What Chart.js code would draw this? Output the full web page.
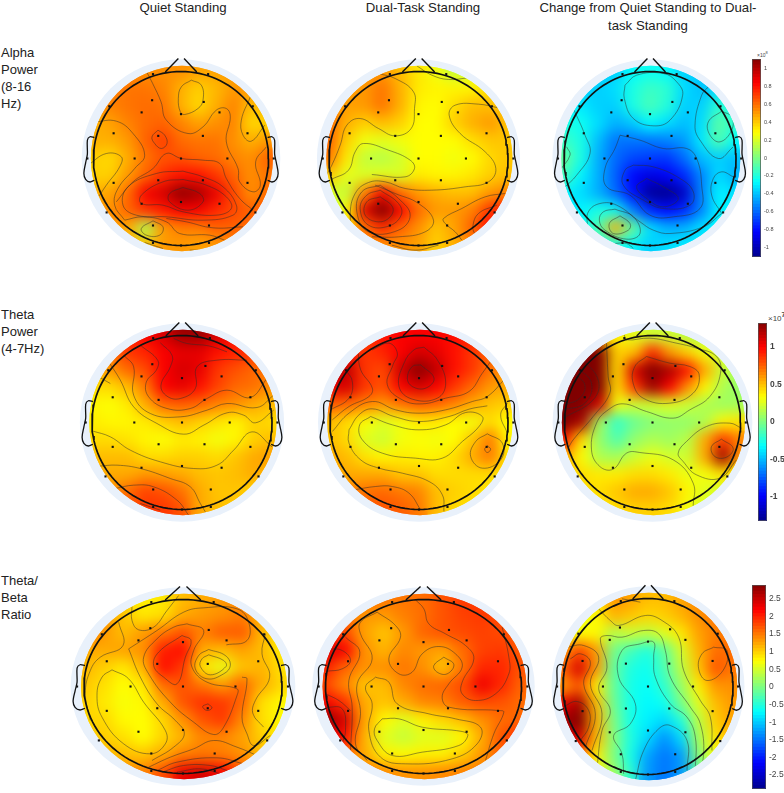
<!DOCTYPE html>
<html>
<head>
<meta charset="utf-8">
<title>EEG power topographies</title>
<script src="https://cdn.jsdelivr.net/npm/chart.js@4/dist/chart.umd.min.js"></script>
<style>
  html, body { margin: 0; padding: 0; background: #fff; }
  #page { position: relative; width: 784px; height: 793px; overflow: hidden; font-family: "Liberation Sans", Arial, sans-serif; color: #222; }
  #page canvas { position: absolute; }
  .title { position: absolute; text-align: center; font-size: 13.2px; line-height: 18px; }
  .row { position: absolute; left: 1px; font-size: 13px; line-height: 17px; }
  .exp { position: absolute; color: #444; }
</style>
</head>
<body>
<div id="page">
  <div class="title" style="left:88px;width:190px;top:-1px">Quiet Standing</div>
  <div class="title" style="left:328px;width:190px;top:-1px">Dual-Task Standing</div>
  <div class="title" style="left:535px;width:226px;top:-1px">Change from Quiet Standing to Dual-task Standing</div>
  <div class="row" style="top:44px">Alpha<br>Power<br>(8-16<br>Hz)</div>
  <div class="row" style="top:306px">Theta<br>Power<br>(4-7Hz)</div>
  <div class="row" style="top:572px">Theta/<br>Beta<br>Ratio</div>
  <div class="exp" style="left:757px;top:50px;font-size:5px">×10<sup style="font-size:4px">8</sup></div>
  <div class="exp" style="left:768px;top:311px;font-size:8px">×10<sup style="font-size:7px;font-weight:bold">7</sup></div>
</div>
<script>
// colour grids, rows top to bottom of the head (colorbar units)
const alphaQuiet = [
  [.52,.52,.52,.52,.52,.52,.48,.48,.5,.5,.5],
  [.55,.55,.58,.58,.55,.45,.38,.43,.5,.5,.5],
  [.5,.55,.58,.6,.58,.45,.36,.45,.55,.42,.45],
  [.45,.48,.55,.6,.62,.55,.48,.52,.55,.36,.38],
  [.45,.45,.5,.62,.7,.6,.58,.58,.52,.45,.5],
  [.38,.36,.46,.58,.65,.66,.62,.6,.55,.52,.62],
  [.38,.38,.5,.62,.74,.8,.8,.72,.62,.52,.58],
  [.45,.48,.6,.85,.92,1.08,1.02,.88,.68,.52,.6],
  [.5,.52,.62,.72,.78,.85,.85,.75,.68,.62,.65],
  [.5,.5,.46,.1,.5,.56,.56,.62,.62,.6,.6],
  [.5,.5,.45,.42,.5,.5,.48,.5,.55,.55,.55]
];
const alphaDual = [
  [.5,.5,.5,.5,.42,.33,.25,.15,.2,.3,.3],
  [.55,.5,.5,.58,.45,.32,.3,.3,.3,.35,.35],
  [.58,.48,.5,.58,.45,.3,.28,.35,.42,.42,.4],
  [.6,.45,.38,.42,.38,.28,.28,.38,.45,.5,.42],
  [.62,.38,.25,.22,.25,.28,.28,.28,.35,.4,.4],
  [.58,.32,.15,.12,.18,.28,.28,.25,.28,.36,.4],
  [.4,.22,.2,.22,.2,.32,.3,.3,.33,.38,.42],
  [.2,.15,.55,.85,.6,.5,.45,.42,.42,.5,.55],
  [.12,.28,.9,1.11,.85,.6,.5,.5,.55,.72,.8],
  [.2,.35,.6,.75,.62,.52,.4,.48,.62,.82,.8],
  [.4,.45,.5,.52,.52,.48,.38,.45,.55,.6,.6]
];
const alphaChange = [
  [-.38,-.38,-.38,-.38,-.28,-.25,-.28,-.38,-.38,-.38,-.38],
  [-.4,-.38,-.38,-.35,-.22,-.15,-.18,-.35,-.42,-.35,-.35],
  [-.3,-.32,-.38,-.38,-.22,-.12,-.2,-.38,-.38,-.18,-.25],
  [-.22,-.25,-.35,-.45,-.4,-.28,-.35,-.42,-.35,-.08,-.18],
  [-.15,-.22,-.42,-.58,-.58,-.58,-.55,-.5,-.32,-.1,-.28],
  [-.05,-.22,-.45,-.6,-.68,-.7,-.72,-.6,-.42,-.38,-.42],
  [-.12,-.3,-.45,-.62,-.82,-.9,-.85,-.75,-.55,-.35,-.45],
  [-.3,-.35,-.45,-.6,-.8,-1.08,-1.11,-.98,-.55,-.3,-.35],
  [-.32,-.3,-.22,-.25,-.55,-.75,-.82,-.75,-.55,-.3,-.3],
  [-.28,-.28,-.1,.45,-.05,-.35,-.45,-.45,-.35,-.28,-.28],
  [-.3,-.3,-.25,-.22,-.3,-.38,-.35,-.32,-.3,-.3,-.3]
];
const thetaQuiet = [
  [.65,.8,.9,1,1.1,1.25,1.25,1.1,.95,.85,.7],
  [.6,.7,.85,.9,1,1.05,1.05,.95,.9,.85,.75],
  [.55,.6,.72,.8,1,1.1,1.05,.85,.78,.72,.68],
  [.42,.42,.5,.68,1,1.05,.95,.82,.72,.7,.62],
  [.35,.32,.38,.55,.72,.75,.72,.65,.62,.55,.5],
  [.38,.35,.35,.38,.45,.5,.45,.4,.35,.45,.42],
  [.42,.42,.4,.35,.32,.38,.36,.3,.35,.45,.5],
  [.5,.5,.5,.42,.42,.45,.45,.42,.48,.55,.58],
  [.55,.55,.55,.6,.58,.55,.5,.48,.5,.55,.52],
  [.6,.6,.72,.82,.78,.7,.55,.48,.48,.45,.45],
  [.65,.65,.75,.85,.85,.78,.55,.5,.48,.45,.45]
];
const thetaDual = [
  [.9,.9,.85,.95,1,1,1,.95,.9,.75,.7],
  [1.05,.95,.85,.9,1,1.1,1.05,.95,.85,.75,.65],
  [1.15,1.15,.85,.8,1.12,1.3,1.15,.95,.85,.7,.6],
  [1.05,1.1,.85,.78,1,1.1,1,.85,.72,.6,.55],
  [.75,.72,.65,.6,.68,.75,.72,.65,.55,.48,.45],
  [.5,.42,.32,.25,.3,.38,.38,.33,.3,.42,.33],
  [.5,.42,.25,.2,.3,.32,.3,.33,.48,.68,.35],
  [.55,.5,.4,.35,.38,.36,.36,.42,.55,.68,.4],
  [.58,.55,.55,.55,.48,.48,.42,.42,.42,.42,.4],
  [.65,.65,.7,.72,.68,.65,.5,.45,.42,.4,.35],
  [.7,.7,.75,.78,.75,.68,.5,.42,.42,.4,.38]
];
const thetaChange = [
  [.9,1.32,.55,.35,.25,.2,.2,.15,.12,.1,.1],
  [1.32,1.32,1.32,.45,.5,.9,.6,.45,.3,.2,.12],
  [1.32,1.32,1.32,.42,1.1,1.32,1.2,.95,.55,.2,.08],
  [1.32,1.32,1.32,.42,.85,1.25,1,.62,.35,.12,.05],
  [1.32,1.32,1.1,.3,.2,.22,.25,.2,.12,.08,.1],
  [1.32,1.2,.1,-.2,-.05,.02,.05,.05,.12,.35,.4],
  [.95,.4,.05,-.12,.05,.12,.08,.15,.55,.85,.65],
  [.55,.32,.12,.1,.2,.28,.22,.2,.55,1.25,.6],
  [.5,.42,.38,.38,.42,.42,.38,.28,.3,.4,.35],
  [.4,.42,.42,.48,.55,.55,.48,.35,.25,.22,.2],
  [.35,.35,.38,.42,.45,.45,.42,.3,.22,.2,.18]
];
const ratioQuiet = [
  [1.2,1.2,1,.8,.85,1.1,1.2,1.3,1.4,1.1,.9],
  [1.6,1.35,1.05,.85,.9,1.2,1.3,1.35,1.45,1.15,.85],
  [1.6,1.3,1.1,1.3,1.5,1.7,1.45,1.65,1.65,1.15,.8],
  [1.2,1.2,1.25,1.35,2,2.1,1.2,1.1,1.25,1.1,.85],
  [1.15,1,.85,1.15,2.1,1.85,.85,.6,1.05,1.15,.9],
  [1.05,.9,.72,.85,1.55,1.7,1.5,1.3,1.6,1.2,.95],
  [1,.85,.68,.75,1.2,1.7,1.9,1.85,1.6,.9,.75],
  [.95,.95,.75,.72,.95,1.35,1.7,1.85,1.4,.9,.75],
  [1.05,1,.9,.72,.95,1.15,1.4,1.4,1.25,1,.85],
  [1.2,1.15,1.1,1.05,1.2,1.45,1.5,1.45,1.35,1.1,.95],
  [1.3,1.3,1.35,1.45,1.75,2.3,2.4,2.2,1.7,1.2,1]
];
const ratioDual = [
  [1.7,1.7,1.6,1.5,1.5,1.55,1.7,1.85,1.85,1.8,1.6],
  [1.8,1.6,1.3,1.3,1.45,1.55,1.7,1.8,1.85,1.75,1.65],
  [2,1.75,1.25,1.05,1.3,1.6,1.7,1.75,1.8,1.75,1.6],
  [2.4,2.2,1.35,1.15,1.4,1.3,1.25,1.55,1.8,1.85,1.65],
  [2,1.6,1.35,1.35,1.5,1.35,1.05,1.5,1.95,1.95,1.7],
  [1.75,1.4,1.05,1.1,1.4,1.55,1.6,1.75,2.25,1.95,1.6],
  [2.2,1.9,1.2,1.05,1.2,1.4,1.45,1.65,1.75,1.7,1.55],
  [2.8,2.4,1.25,.75,.55,.8,.95,1.1,1.35,1.55,1.6],
  [2.4,2.1,1.15,.55,.4,.55,.55,.75,1.2,1.7,1.95],
  [1.85,1.6,1.2,.8,.75,.8,.8,1,1.3,1.65,1.75],
  [1.7,1.65,1.5,1.4,1.35,1.35,1.4,1.45,1.5,1.6,1.6]
];
const ratioChange = [
  [.5,.6,.85,1.35,1.25,1.1,1.1,1.25,1.4,1.5,1.45],
  [.45,.6,.75,1.15,1.05,.95,1,1.15,1.35,1.5,1.5],
  [.6,.7,.75,.3,.45,.35,.55,.85,1.25,1.45,1.5],
  [1.3,1.8,1.3,-.05,-.35,-.55,-.2,.5,1.15,1.55,1.55],
  [1.6,2.4,1.3,-.15,-.55,-.65,-.3,.35,1.05,1.7,1.5],
  [1.3,1.7,.8,-.15,-.6,-.7,-.45,.15,.8,1.3,1.35],
  [2.3,2.7,1.1,-.1,-.6,-.75,-.65,-.05,.55,1.1,1.3],
  [2.7,2.89,1.2,0,-.6,-.8,-.95,-.55,.35,1,1.25],
  [2.3,2.4,1.1,.05,-.55,-.95,-1.35,-.95,.2,.85,1.2],
  [1.5,1.6,.8,0,-.6,-1.25,-1.5,-1.3,0,.7,.9],
  [1.2,1.2,.8,.2,-.45,-1.3,-1.5,-1.3,-.2,.45,.7]
];

// contour lines as x,y,x,y... relative to the head centre
const alphaQuietLines = [
  [31,235,61,220,66,175,51,150,11,132,-2,140,-8,180,1,215,31,235],
  [-102,258,-85,225,-60,170,-44,115,21,75,66,95,106,145,136,150,148,125,136,50,171,-30,176,-70,216,-100,238,-80,224,-10,256,35],
  [208,185,181,115,186,70,211,52,251,100],
  [-69,85,-49,70,-42,45,-59,30,-79,45,-87,65,-69,85],
  [-259,110,-194,112,-144,75,-109,10,-139,-30,-189,-90,-199,-140,-169,-185],
  [-279,-20,-224,15,-179,5,-184,-25,-224,-80,-254,-125],
  [216,-155,176,-120,136,-60,116,-15,66,-5,1,0,-44,15,-84,-30,-144,-70,-194,-130],
  [6,-38,66,-55,126,-85,166,-140,156,-170,66,-185,-44,-175,-134,-170,-174,-140,-159,-85,-74,-45,6,-38],
  [6,-63,76,-80,136,-115,151,-150,106,-170,6,-160,-54,-140,-119,-135,-119,-110,-54,-70,6,-63],
  [6,-87,56,-105,66,-130,21,-155,-34,-130,-34,-105,6,-87],
  [-84,-187,-54,-205,-64,-230,-104,-230,-119,-210,-84,-187],
  [-169,-185,-114,-175,-44,-190,-4,-225,86,-230,131,-245],
  [-44,-180,16,-190,96,-208,186,-205],
  [-109,-252,-54,-270],
  [26,-275,51,-275]
];
const alphaDualLines = [
  [-120,255,-70,240,-15,200,-12,150,-22,90,-70,68,-120,90,-175,120,-215,100,-235,40,-260,-20,-280,-55],
  [-5,278,40,250,90,237,150,242],
  [240,152,180,163,110,160,92,130,125,75,200,20,232,-30,210,-70,140,-85,40,-95,-40,-90,-100,-70,-150,-72,-190,-105,-205,-170,-195,-220],
  [-260,-62,-210,-35,-190,20,-165,45,-90,25,-25,-5,-12,-30,-40,-55,-140,-48],
  [-130,-80,-70,-105,0,-135,45,-185,20,-220,-60,-235,-140,-235],
  [-115,-80,-60,-120,-25,-170,-60,-215,-150,-220,-185,-160,-170,-100,-115,-80],
  [-115,-95,-60,-135,-52,-170,-90,-203,-150,-200,-175,-150,-155,-110,-115,-95],
  [-115,-115,-78,-145,-85,-175,-120,-190,-160,-170,-155,-130,-115,-115],
  [260,-105,200,-115,130,-150,75,-180,80,-195,110,-220,130,-245],
  [235,-140,180,-165,163,-205,170,-230],
  [-80,-260,-10,-275,60,-260]
];
const alphaChangeLines = [
  [-75,220,-40,250,40,255,80,230,98,190,60,115,10,98,-50,120,-77,180,-75,220],
  [175,215,155,190,135,100,150,55,205,0,250,35],
  [215,142,245,125,245,85,210,50,180,70,175,110,215,142],
  [-230,150,-195,70,-180,15,-220,-50,-260,-90],
  [-250,35,-240,10,-270,-35],
  [-90,70,-30,55,40,30,110,30,140,0,155,-80,150,-150,70,-175,0,-170,-60,-110,-130,-85,-135,-30,-105,30,-90,70],
  [-50,-20,10,-25,90,-60,130,-100,120,-140,40,-150,-20,-125,-80,-80,-75,-35,-50,-20],
  [-10,-60,40,-85,85,-120,40,-145,-10,-120,-40,-85,-10,-60],
  [-188,-205,-185,-160,-150,-135,-100,-140,-30,-190,10,-215,60,-225,160,-205,215,-165],
  [250,-55,215,-40,190,-60,185,-110,215,-165],
  [-105,-152,-50,-175,-30,-225,-70,-242,-135,-215,-152,-185,-140,-160,-105,-152],
  [-90,-172,-60,-195,-65,-215,-110,-225,-122,-195,-90,-172],
  [-110,-255,-70,-255,-50,-270]
];
const thetaQuietLines = [
  [-65,239,-30,202,-35,167,-63,112,-45,79,-5,72,40,102,45,167,105,187,195,187],
  [-125,232,-73,187,-77,157,-107,122,-100,77,-45,42,25,42,75,72,135,97,205,75,255,132],
  [-175,202,-145,167,-145,82,-95,27,-5,17,75,37,135,57,225,45,275,82],
  [-220,182,-185,127,-145,47,-75,-3,5,-35,65,-8,135,29,185,22,220,-1,275,37],
  [-250,137,-215,117],
  [-25,252,15,237,80,230,135,212],
  [-270,-25,-215,-43,-155,-83,-65,-118,35,-138,105,-128,155,-83,210,-28,270,-73],
  [-250,-131,-195,-128,-125,-138,-35,-168,25,-193,55,-243,70,-268],
  [-200,-198,-145,-188,-85,-193,-15,-233,20,-278],
  [-125,-243,-65,-263]
];
const thetaDualLines = [
  [-220,158,-200,123,-210,73,-265,38],
  [-183,213,-175,158,-140,103,-150,78,-210,48,-260,8],
  [-140,218,-90,238,-65,208,-78,173,-95,113,-50,68,10,56,80,73,150,93,190,148,215,183],
  [15,226,55,188,80,118,55,73,-20,70,-60,108,-45,178,-15,218,15,226],
  [5,173,45,133,20,103,-20,108,-35,133,-20,168,5,173],
  [-260,-27,-210,28,-140,63,-70,38,0,28,80,38,160,63,205,78,260,133],
  [-210,-22,-180,23,-140,41,-75,18,0,3,90,18,150,40,205,50],
  [-210,-22,-210,-62,-175,-112,-120,-137,-50,-152,30,-177,70,-217,75,-267],
  [-145,18,-80,-7,0,-22,80,-7,140,30,190,18,180,-12,130,-57,70,-107,-10,-107,-110,-92,-170,-52,-178,-7,-145,18],
  [205,-34,250,-62,245,-112,190,-137,155,-102,170,-57,205,-34],
  [205,-70,215,-80,205,-90,197,-80,205,-70],
  [265,58,245,23,265,-32],
  [-195,-202,-130,-192,-80,-192,-30,-212,5,-262]
];
const thetaChangeLines = [
  [-138,238,-133,138,-128,88,-178,18,-238,-52,-253,-77],
  [-218,198,-163,128,-178,68,-268,13],
  [-228,168,-183,118,-203,58,-268,38],
  [-238,148,-203,113,-218,73,-263,53],
  [-18,198,52,178,112,168,140,143,122,88,52,58,-28,73,-58,118,-53,168,-18,198],
  [-85,263,-78,248,-8,253,72,238,132,223,192,198,204,148,172,78,112,38,62,13,-18,33,-88,56,-133,38,-168,-2,-183,-82,-158,-132,-118,-140,-78,-92,-38,-90,62,-112,122,-182,122,-252],
  [267,-17,232,-2,162,-12,102,-57,77,-92,92,-117,132,-157,202,-167,252,-112],
  [207,-50,242,-77,222,-104,187,-102,177,-72,207,-50]
];
const ratioQuietLines = [
  [-153,240,-153,198,-133,170,-88,178,-48,228,-13,273],
  [-193,193,-180,123,-248,88,-278,48,-293,-22,-278,-102],
  [-163,113,-78,168,2,223,62,236,162,233,197,193,192,138,130,125],
  [-163,113,-128,28,-78,-52,-23,-102,4,-142,-28,-182,-93,-222],
  [12,188,62,168,32,108,27,58,72,13,162,-7,162,-27,122,-122,92,-144,32,-107,-38,-47,-103,38,-118,88,-78,143,-28,178,12,188],
  [-3,153,24,138,7,88,-18,8,-58,28,-88,63,-73,103,-3,153],
  [75,-52,87,-64,72,-72,59,-60,75,-52],
  [77,111,127,93,142,63,122,38,72,23,37,53,47,93,77,111],
  [77,95,122,78,129,60,82,35,52,60,57,83,77,95],
  [-213,50,-163,23,-118,-47,-53,-132,-53,-172,-98,-202,-178,-172,-243,-92,-258,-27,-243,28,-213,50],
  [247,158,237,98,260,28,217,-42,210,-82,242,-122],
  [177,28,192,23,177,-92,192,-142,212,-177,262,-147],
  [-103,-242,-38,-212,32,-187,92,-162,162,-182,222,-207],
  [-78,-252,-18,-227,102,-214,182,-232],
  [-63,-257,2,-237,82,-237,132,-252],
  [-18,-257,52,-247,112,-262]
];
const ratioDualLines = [
  [-24,260,1,233,16,188,66,158,126,123,151,83,116,13,116,-22,156,-42,216,-22,256,38,256,88,236,178],
  [-139,223,-84,183,-69,148,-104,83,-74,38,-34,43,-4,98,46,120,96,98,116,58,76,8,56,-32,76,-62,226,-72,241,-77,211,-142,186,-222],
  [-139,223,-189,193,-189,158,-154,83,-199,8,-189,-82,-204,-172,-169,-222],
  [61,88,91,66,71,38,41,43,31,63,61,88],
  [-144,28,-104,13,-79,-52,16,-82,96,-97,171,-122,161,-172,86,-217,-54,-232,-129,-212,-164,-132,-154,-52,-174,-2,-144,28],
  [-124,-97,-74,-97,-4,-122,116,-135,133,-147,106,-177,-4,-197,-94,-207,-139,-162,-147,-127,-124,-97],
  [-289,113,-244,108,-219,78,-244,53,-289,46],
  [-234,148,-191,103,-224,18,-214,-62,-219,-192],
  [-294,-22,-254,-42,-219,-72],
  [-294,-62,-244,-67,-234,-132,-244,-172]
];
const ratioChangeLines = [
  [-78,263,-23,253],
  [-148,233,-113,198,-88,183,-8,213,42,198,92,148,107,48,157,-42,187,-92,192,-192],
  [-153,-242,-138,-132,-113,-72,-148,-7,-123,58,-143,143,-123,153,-78,148,-13,168,32,158,52,108,67,28,127,-62,157,-112,167,-202,152,-262],
  [-73,-262,-78,-202,-103,-147,-53,-112,-38,-52,-88,28,-78,108,-23,128,17,133,17,88,22,28,67,-52,117,-92,142,-152,142,-252],
  [-38,-282,-13,-192,32,-127,67,-117,117,-162,117,-252],
  [-243,118,-193,123,-148,88,-173,8,-138,-82,-168,-192],
  [-233,83,-203,98,-173,73,-193,8,-158,-82,-188,-182],
  [-253,-60,-213,-45,-178,-72,-178,-122,-203,-162],
  [197,118,237,108,225,48,177,18,152,53,162,98,197,118]
];

// 32 channel positions as fractions of head radius
const electrodes = [
  [-.32,.97],[.31,.97],[-.82,.6],[-.45,.53],[-.33,.67],[0,.51],[.26,.65],[.44,.53],[.82,.6],
  [-.77,.29],[-.26,.26],[.25,.26],[.76,.29],[-1.07,0],[-.53,0],[0,0],[.53,0],[1.06,0],
  [-.77,-.28],[-.26,-.25],[.25,-.25],[.76,-.28],[-.85,-.62],[-.45,-.52],[0,-.5],[.44,-.52],[.85,-.62],
  [-.32,-.77],[.32,-.77],[-.32,-.97],[0,-1],[.32,-.97]
];
const gridSteps = [-1,-.8,-.6,-.4,-.2,0,.2,.4,.6,.8,1];
const noseLeft = [[-.18,.995],[-.03,1.15]];
const noseRight = [[.18,.995],[.035,1.15]];
const earShape = [[.99,.24],[1.04,.25],[1.07,.21],[1.07,.05],[1.09,-.05],[1.11,-.17],[1.09,-.24],[1.04,-.27],[.99,-.25]];

// colorbars
const alphaRange = 1.11, thetaRange = 1.32, ratioRange = 2.89;
const alphaTicks = [1,.8,.6,.4,.2,0,-.2,-.4,-.6,-.8,-1];
const thetaTicks = [1,.5,0,-.5,-1];
const ratioTicks = [2.5,2,1.5,1,.5,0,-.5,-1,-1.5,-2,-2.5];

const panels = [
  {grid: alphaQuiet, lines: alphaQuietLines, range: alphaRange, cx: 181, cy: 158, rx: 87.5, ry: 87},
  {grid: alphaDual, lines: alphaDualLines, range: alphaRange, cx: 418.5, cy: 158, rx: 89.5, ry: 87},
  {grid: alphaChange, lines: alphaChangeLines, range: alphaRange, cx: 650, cy: 158, rx: 86, ry: 87},
  {grid: thetaQuiet, lines: thetaQuietLines, range: thetaRange, cx: 181.5, cy: 422.5, rx: 90, ry: 87},
  {grid: thetaDual, lines: thetaDualLines, range: thetaRange, cx: 418.5, cy: 422.5, rx: 89, ry: 87},
  {grid: thetaChange, lines: thetaChangeLines, range: thetaRange, cx: 652.5, cy: 422.5, rx: 88, ry: 87},
  {grid: ratioQuiet, lines: ratioQuietLines, range: ratioRange, cx: 182.5, cy: 686, rx: 99, ry: 87},
  {grid: ratioDual, lines: ratioDualLines, range: ratioRange, cx: 423, cy: 686, rx: 98, ry: 87},
  {grid: ratioChange, lines: ratioChangeLines, range: ratioRange, cx: 647.5, cy: 686, rx: 85, ry: 88}
];

// matlab jet
const jetStops = [[0,0,0,143],[.125,0,0,255],[.375,0,255,255],[.625,255,255,0],[.875,255,0,0],[1,128,0,0]];
function jet(v, range) {
  const t = Math.max(0, Math.min(1, (v / range + 1) / 2));
  let i = 0;
  while (i < jetStops.length - 2 && t > jetStops[i + 1][0]) i++;
  const a = jetStops[i], b = jetStops[i + 1], f = (t - a[0]) / (b[0] - a[0]);
  const c = [1, 2, 3].map(k => Math.round(a[k] + (b[k] - a[k]) * f));
  return 'rgb(' + c.join(',') + ')';
}

const page = document.getElementById('page');
function addCanvas(left, top, w, h) {
  const c = document.createElement('canvas');
  c.width = w; c.height = h;
  c.style.left = left + 'px'; c.style.top = top + 'px';
  c.style.width = w + 'px'; c.style.height = h + 'px';
  page.appendChild(c);
  return c;
}

function discPath(chart, ctx) {
  const o = chart.options.plugins.scalp;
  ctx.beginPath();
  ctx.ellipse(chart.scales.x.getPixelForValue(0) + o.rx * .01, chart.scales.y.getPixelForValue(0), o.rx * 1.04, o.ry * 1.065, 0, 0, Math.PI * 2);
}

// smooths the cell layer, clips it to the scalp disc, keeps contours inside it
const scalpPlugin = {
  id: 'scalp',
  beforeDatasetDraw(chart, args) {
    if (!chart.data.datasets[args.index].isContour) return;
    chart.ctx.save();
    discPath(chart, chart.ctx);
    chart.ctx.clip();
  },
  afterDatasetDraw(chart, args) {
    const ds = chart.data.datasets[args.index], ctx = chart.ctx;
    if (ds.isContour) { ctx.restore(); return; }
    if (!ds.isHeat) return;
    const o = chart.options.plugins.scalp;
    const tmp = document.createElement('canvas');
    tmp.width = chart.canvas.width; tmp.height = chart.canvas.height;
    tmp.getContext('2d').drawImage(chart.canvas, 0, 0);
    ctx.save();
    ctx.clearRect(0, 0, chart.width, chart.height);
    ctx.fillStyle = '#e9f1fb';
    ctx.beginPath();
    ctx.ellipse(chart.scales.x.getPixelForValue(0), chart.scales.y.getPixelForValue(0), o.rx * 1.135, o.ry * 1.14, 0, 0, Math.PI * 2);
    ctx.fill();
    discPath(chart, ctx);
    ctx.clip();
    ctx.drawImage(tmp, 0, 0);
    ctx.filter = 'blur(' + o.blur + 'px)';
    ctx.drawImage(tmp, 0, 0);
    ctx.restore();
  }
};

function drawPanel(p) {
  const w = Math.round(2.4 * p.rx), h = Math.round(2.4 * p.ry);
  const canvas = addCanvas(Math.round(p.cx - w / 2), Math.round(p.cy - h / 2), w, h);
  const Rx = p.rx * 3, Ry = p.ry * 3;   // axis units are a third of a pixel
  const cell = Math.max(p.rx, p.ry) * .2 * 1.04 / Math.SQRT2;
  const cells = [];
  p.grid.forEach((row, r) => row.forEach((v, c) => {
    cells.push({x: gridSteps[c] * Rx, y: -gridSteps[r] * Ry, v: v});
  }));
  const ring = [];
  for (let a = 0; a <= 120; a++) {
    ring.push({x: Math.cos(a / 120 * Math.PI * 2) * Rx, y: Math.sin(a / 120 * Math.PI * 2) * Ry});
  }
  const scaled = (pts, sign) => pts.map(q => ({x: q[0] * Rx * sign, y: q[1] * Ry}));
  const outline = (data, width, tension) => ({data, showLine: true, pointRadius: 0, borderColor: '#111', borderWidth: width, tension: tension});
  const contours = p.lines.map(l => {
    const data = [];
    for (let i = 0; i < l.length; i += 2) data.push({x: l[i], y: l[i + 1]});
    return {isContour: true, data, showLine: true, pointRadius: 0, borderColor: 'rgba(45,45,45,.62)', borderWidth: .8, tension: .42};
  });
  new Chart(canvas, {
    type: 'scatter',
    data: {
      datasets: [
        {data: scaled(electrodes, 1), pointStyle: 'rect', pointRadius: 1.5, pointBackgroundColor: '#111', pointBorderWidth: 0},
        outline(ring, 1.7, 0),
        outline(scaled(noseLeft, 1), 1.4, 0),
        outline(scaled(noseRight, 1), 1.4, 0),
        outline(scaled(earShape, 1), 1.3, .3),
        outline(scaled(earShape, -1), 1.3, .3),
        ...contours,
        {
          isHeat: true, data: cells, pointStyle: 'rect', pointRadius: cell, pointBorderWidth: 0,
          pointBackgroundColor: ctx => jet(ctx.raw.v, p.range)
        }
      ]
    },
    options: {
      responsive: false, animation: false, events: [],
      layout: {padding: 0, autoPadding: false},
      scales: {
        x: {display: false, min: -w * 1.5, max: w * 1.5},
        y: {display: false, min: -h * 1.5, max: h * 1.5}
      },
      plugins: {legend: {display: false}, tooltip: {enabled: false}, scalp: {rx: p.rx, ry: p.ry, blur: 7}}
    },
    plugins: [scalpPlugin]
  });
}
panels.forEach(drawPanel);

const frame = {
  id: 'frame',
  afterDraw(chart) {
    const a = chart.chartArea, ctx = chart.ctx;
    ctx.save();
    ctx.strokeStyle = '#555'; ctx.lineWidth = .7;
    ctx.strokeRect(a.left + .5, a.top + .5, a.right - a.left - 1, a.bottom - a.top - 1);
    ctx.restore();
  }
};

function drawBar(left, top, barW, barH, labelW, range, ticks, font) {
  const pad = 8;
  const canvas = addCanvas(left, top - pad, barW + labelW, barH + pad * 2);
  const steps = 64, sets = [];
  for (let i = 0; i < steps; i++) {
    const lo = -range + 2 * range * i / steps, hi = lo + 2 * range / steps;
    sets.push({data: [[lo, hi + range * .003]], backgroundColor: jet((lo + hi) / 2, range), barPercentage: 1, categoryPercentage: 1, grouped: false});
  }
  new Chart(canvas, {
    type: 'bar',
    data: {labels: [''], datasets: sets},
    options: {
      responsive: false, animation: false, events: [],
      layout: {padding: {top: pad, bottom: pad, left: 0, right: 0}},
      scales: {
        x: {display: false},
        y: {
          position: 'right', min: -range, max: range,
          afterFit: s => { s.width = labelW; },
          afterBuildTicks: s => { s.ticks = ticks.map(v => ({value: v})); },
          grid: {display: false, drawTicks: false},
          border: {display: false},
          ticks: {color: '#444', font: font, padding: 3, callback: v => String(v)}
        }
      },
      plugins: {legend: {display: false}, tooltip: {enabled: false}}
    },
    plugins: [frame]
  });
}
drawBar(752, 59, 9, 198, 23, alphaRange, alphaTicks, {family: 'Liberation Sans', size: 5.5});
drawBar(758, 323, 9, 198, 17, thetaRange, thetaTicks, {family: 'Liberation Sans', size: 8.5, weight: 'bold'});
drawBar(752, 585, 14, 204, 18, ratioRange, ratioTicks, {family: 'Liberation Sans', size: 8.5});
</script>
</body>
</html>
